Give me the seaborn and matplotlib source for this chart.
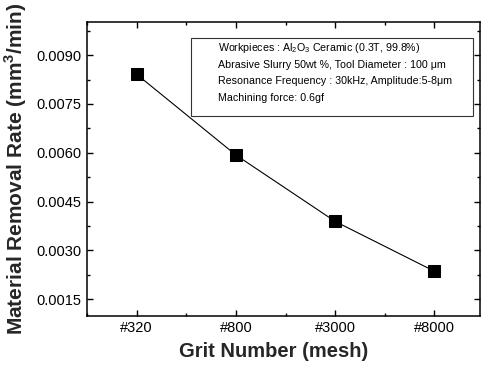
import matplotlib
matplotlib.use("Agg")
import matplotlib.pyplot as plt
import matplotlib.ticker as mticker
import numpy as np
import pandas as pd
import seaborn as sns

# values
grit_labels = ["#320", "#800", "#3000", "#8000"]
removal_rate = [0.00841, 0.00593, 0.00389, 0.00236]
y_ticks = [0.0015, 0.0030, 0.0045, 0.0060, 0.0075, 0.0090]

note_lines = [
    r"Workpieces : Al$_2$O$_3$ Ceramic (0.3T, 99.8%)",
    "Abrasive Slurry 50wt %, Tool Diameter : 100 \u03bcm",
    "Resonance Frequency : 30kHz, Amplitude:5-8\u03bcm",
    "Machining force: 0.6gf",
]

sns.set_theme(style="ticks")
plt.rcParams["font.family"] = ["Liberation Sans", "DejaVu Sans"]
plt.rcParams["mathtext.fontset"] = "custom"
plt.rcParams["mathtext.rm"] = "Liberation Sans"
plt.rcParams["mathtext.bf"] = "Liberation Sans:bold"

df = pd.DataFrame({"grit": grit_labels, "mrr": removal_rate})

fig = plt.figure(figsize=(4.84, 3.66), dpi=100)
ax = fig.add_axes([0.180, 0.137, 0.812, 0.803])

sns.lineplot(data=df, x="grit", y="mrr", ax=ax, color="black", linewidth=0.8,
             marker="s", markersize=8.2, markeredgecolor="black",
             markerfacecolor="black")

ax.set_xlim(-0.5, 3.46)
ax.set_ylim(0.00099, 0.01002)
ax.set_yticks(y_ticks)
ax.yaxis.set_major_formatter(mticker.FormatStrFormatter("%.4f"))
ax.yaxis.set_minor_locator(mticker.MultipleLocator(0.00075))
ax.xaxis.set_minor_locator(mticker.MultipleLocator(0.5))

for side in ["left", "right", "top", "bottom"]:
    ax.spines[side].set_visible(True)
    ax.spines[side].set_linewidth(1.1)
    ax.spines[side].set_color("black")

ax.tick_params(which="both", direction="in", top=True, right=True,
               colors="black", width=1.0)
ax.tick_params(axis="y", labelsize=10.5)
ax.tick_params(axis="x", labelsize=10.5)
ax.tick_params(which="major", length=4.3, pad=4)
ax.tick_params(which="minor", length=2.5)

ax.set_xlabel("Grit Number (mesh)", fontsize=14.5, fontweight="bold", labelpad=1)
ax.set_ylabel(r"Material Removal Rate (mm$^\mathbf{3}$/min)", fontsize=15,
              fontweight="bold", labelpad=5)
ax.xaxis.set_label_coords(0.475, -0.09)

# boxed note with the process conditions
box = plt.Rectangle((0.265, 0.680), 0.717, 0.265, transform=ax.transAxes,
                    facecolor="white", edgecolor="#333333", linewidth=0.8)
ax.add_patch(box)
for i, line in enumerate(note_lines):
    ax.text(0.332, 0.912 - i * 0.057, line, transform=ax.transAxes,
            fontsize=7.7, va="center", ha="left", color="black")

fig.savefig("out.png", dpi=100)
